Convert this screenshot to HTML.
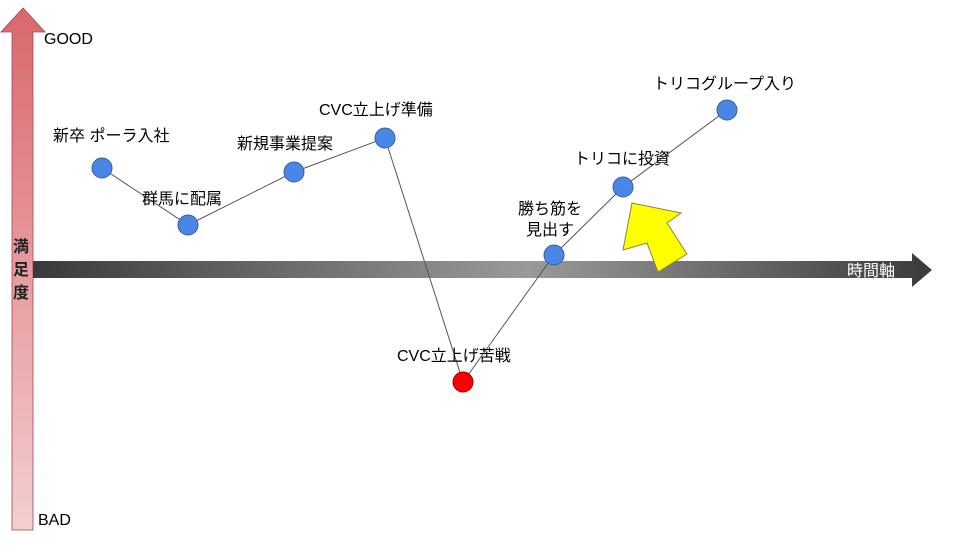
<!DOCTYPE html><html><head><meta charset="utf-8"><style>
body{margin:0;background:#fff;}
text{font-family:"Liberation Sans","Noto Sans CJK JP",sans-serif;}
</style></head><body>
<svg width="960" height="540" xmlns="http://www.w3.org/2000/svg">
<defs>
<linearGradient id="v" x1="0" y1="0" x2="0" y2="1"><stop offset="0" stop-color="#d9676c"/><stop offset="1" stop-color="#f3cfd0"/></linearGradient>
<linearGradient id="h" x1="0" y1="0" x2="1" y2="0"><stop offset="0" stop-color="#3a3a3a"/><stop offset="0.55" stop-color="#9a9a9a"/><stop offset="1" stop-color="#3a3a3a"/></linearGradient>
</defs>
<polygon points="12,530 12,32 1,32 23,8 45,32 33,32 33,530" fill="url(#v)" stroke="#a04a4e" stroke-width="0.8"/>
<polygon points="33,261 912,261 912,253 932,270 912,287 912,278 33,278" fill="url(#h)"/>
<text x="847" y="276" font-size="16" fill="#fff">時間軸</text>
<text x="13" y="252" font-size="16" font-weight="bold" fill="#222">満</text>
<text x="13" y="275" font-size="16" font-weight="bold" fill="#222">足</text>
<text x="13" y="298" font-size="16" font-weight="bold" fill="#222">度</text>
<text x="44" y="44" font-size="16" fill="#000">GOOD</text>
<text x="38" y="525" font-size="16" fill="#000">BAD</text>
<polyline points="102,168 188,225 294,172 385,138 463,382 554,255 623,187 727,110" fill="none" stroke="#555" stroke-width="1"/>
<polygon points="632,203 681,213 667,223 687,254 658,272 647,243 623,250" fill="#ffff00" stroke="#888833" stroke-width="1"/>
<g fill="#4a86e8" stroke="#3a5f9a" stroke-width="1">
<circle cx="102" cy="168" r="10"/><circle cx="188" cy="225" r="10"/><circle cx="294" cy="172" r="10"/><circle cx="385" cy="138" r="10"/>
<circle cx="554" cy="255" r="10"/><circle cx="623" cy="187" r="10"/><circle cx="727" cy="110" r="10"/>
</g>
<circle cx="463" cy="382" r="10" fill="#ff0000" stroke="#990000"/>
<g font-size="16" fill="#000">
<text x="53" y="141">新卒 ポーラ入社</text>
<text x="142" y="204">群馬に配属</text>
<text x="237" y="149">新規事業提案</text>
<text x="319" y="115">CVC立上げ準備</text>
<text x="397" y="361">CVC立上げ苦戦</text>
<text x="518" y="214">勝ち筋を</text>
<text x="526" y="235">見出す</text>
<text x="574" y="164">トリコに投資</text>
<text x="653" y="89">トリコグループ入り</text>
</g>
</svg>
</body></html>
